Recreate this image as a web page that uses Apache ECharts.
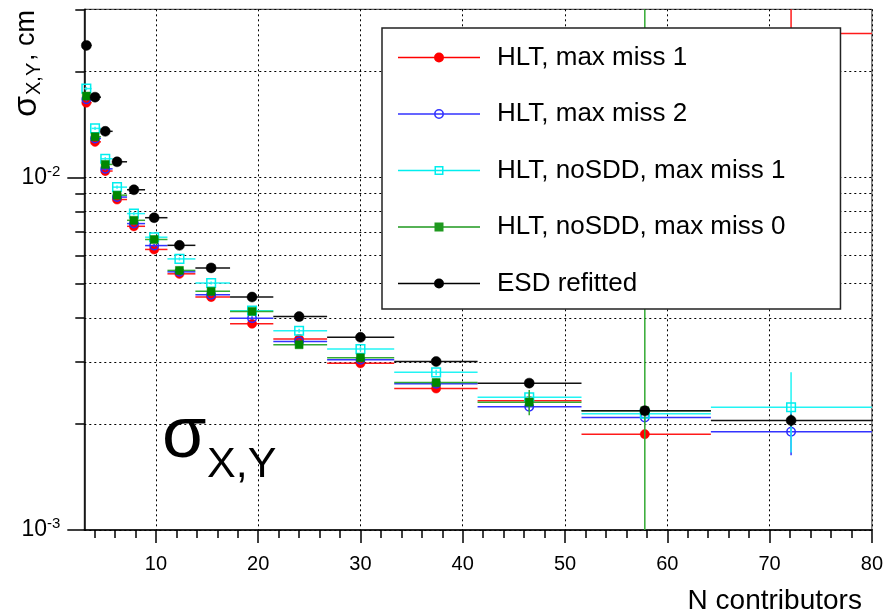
<!DOCTYPE html>
<html><head><meta charset="utf-8">
<script src="https://cdn.jsdelivr.net/npm/echarts@6/dist/echarts.min.js"></script>
<style>html,body{margin:0;padding:0;background:#fff}#c{width:886px;height:616px}</style>
</head><body><div id="c"></div>
<script>
const FONT = 'Liberation Sans, Arial, Helvetica, sans-serif';

const seriesNames = ['HLT, max miss 1', 'HLT, max miss 2', 'HLT, noSDD, max miss 1', 'HLT, noSDD, max miss 0', 'ESD refitted'];

// bin centres and bin edges (N contributors)
const binCenters = [3.2, 4.05, 5.05, 6.2, 7.85, 9.83, 12.3, 15.4, 19.4, 24.0, 30.0, 37.4, 46.5, 57.8, 72.1];
const binEdges = [3.0, 3.72, 4.63, 5.77, 7.18, 8.94, 11.13, 13.86, 17.25, 21.48, 26.74, 33.3, 41.45, 51.61, 64.26, 80.0];

// sigma_XY values (cm) and errors
const redVals   = [0.0163, 0.01262, 0.01043, 0.00866, 0.00727, 0.00625, 0.00533, 0.00458, 0.003847, 0.00348, 0.00297, 0.00252, 0.002325, 0.00187, 0.0256];
const redErrs   = [0.0002, 0.00015, 0.00012, 0.0001, 0.00008, 0.00007, 0.00006, 0.00005, 0.00005, 0.00005, 0.00005, 0.00005, 0.00006, 0.00005, 0.0207];
const blueVals  = [0.01666, 0.0129, 0.01058, 0.0088, 0.0074, 0.00641, 0.0054, 0.004651, 0.00399, 0.003427, 0.00304, 0.0026, 0.002236, 0.002084, 0.0019];
const blueErrs  = [0.0002, 0.00015, 0.00012, 0.0001, 0.00008, 0.00007, 0.00006, 0.00005, 0.00005, 0.00005, 0.00005, 0.00005, 0.00006, 0.00006, 0.00027];
const cyanVals  = [0.01787, 0.01378, 0.0113, 0.00939, 0.0079, 0.00677, 0.005875, 0.00502, 0.00419, 0.003676, 0.00326, 0.0028, 0.00238, 0.002136, 0.00223];
const cyanErrs  = [0.0002, 0.00015, 0.00012, 0.0001, 0.00008, 0.00007, 0.00006, 0.00005, 0.00005, 0.00005, 0.00005, 0.00005, 0.00006, 0.00006, 0.00057];
const greenVals = [0.01702, 0.01305, 0.01089, 0.00891, 0.00756, 0.00667, 0.00545, 0.004753, 0.00417, 0.003354, 0.00308, 0.00262, 0.002305, 0.00218, null];
const greenErrs = [0.0002, 0.00015, 0.00012, 0.0001, 0.00008, 0.00007, 0.00006, 0.00005, 0.00005, 0.00005, 0.00005, 0.00005, 0.00019, 0.05, null];
const blackVals = [0.0237, 0.0169, 0.01352, 0.01108, 0.00923, 0.00769, 0.00642, 0.00554, 0.00458, 0.00403, 0.00352, 0.003005, 0.00261, 0.00218, 0.002045];
const blackErrs = [0.0002, 0.00015, 0.00012, 0.0001, 0.00008, 0.00007, 0.00006, 0.00005, 0.00005, 0.00005, 0.00005, 0.00005, 0.00006, 0.00006, 0.00008];

// axis ticks
const xTickValues = [10, 20, 30, 40, 50, 60, 70, 80];
const xMinorTickValues = [4, 6, 8, 12, 14, 16, 18, 22, 24, 26, 28, 32, 34, 36, 38, 42, 44, 46, 48, 52, 54, 56, 58, 62, 64, 66, 68, 72, 74, 76, 78];
const yTickValues = [0.001, 0.01];
const yMinorTickValues = [0.002, 0.003, 0.004, 0.005, 0.006, 0.007, 0.008, 0.009, 0.02, 0.03];

const styles = [
  { line: '#ff1a1a', marker: 'circle', fill: '#ff0000', stroke: '#ff0000', size: 4.6, legend: '#ff0000' },
  { line: '#3333ff', marker: 'circle', fill: 'none', stroke: '#2a2aff', size: 4.2, legend: '#3333ff' },
  { line: '#22f4f4', marker: 'rect', fill: 'none', stroke: '#00eeee', size: 4.3, legend: '#00eeee' },
  { line: '#33aa33', marker: 'rect', fill: '#008800', stroke: '#008800', size: 4.0, legend: '#1f991f' },
  { line: '#111111', marker: 'circle', fill: '#000000', stroke: '#000000', size: 5.0, legend: '#000000' }
];
const valsList = [redVals, blueVals, cyanVals, greenVals, blackVals];
const errsList = [redErrs, blueErrs, cyanErrs, greenErrs, blackErrs];

const LINE = 'M0,4.3H82V5.7H0Z';
const icons = [
  'path://' + LINE + 'M36,5A5,5,0,1,1,46,5A5,5,0,1,1,36,5Z',
  'path://' + LINE + 'M36,5A5,5,0,1,1,46,5A5,5,0,1,1,36,5ZM37.6,5A3.4,3.4,0,1,0,44.4,5A3.4,3.4,0,1,0,37.6,5Z',
  'path://' + LINE + 'M36.5,0.5H45.5V9.5H36.5ZM38,2V8H44V2Z',
  'path://' + LINE + 'M36.5,0.5H45.5V9.5H36.5Z',
  'path://' + LINE + 'M36,5A5,5,0,1,1,46,5A5,5,0,1,1,36,5Z'
];

function clamp(v, a, b) { return Math.max(a, Math.min(b, v)); }

function makeRender(st) {
  return function (params, api) {
    const cs = params.coordSys;
    const x = api.value(0), y = api.value(1), xl = api.value(2), xh = api.value(3), e = api.value(4);
    const c = api.coord([x, y]);
    const pl = api.coord([xl, y]), ph = api.coord([xh, y]);
    const lo = (y - e) > 0 ? (y - e) : 1e-7;
    const pt = api.coord([x, y + e]), pb = api.coord([x, lo]);
    const top = cs.y, bot = cs.y + cs.height;
    const children = [];
    if (c[1] >= top && c[1] <= bot) {
      children.push({ type: 'line', shape: { x1: pl[0], y1: c[1], x2: ph[0], y2: c[1] }, style: { stroke: st.line, lineWidth: 1.5 } });
    }
    children.push({ type: 'line', shape: { x1: c[0], y1: clamp(pt[1], top, bot), x2: c[0], y2: clamp(pb[1], top, bot) }, style: { stroke: st.line, lineWidth: 1.5 } });
    if (c[1] >= top && c[1] <= bot) {
      const s = st.size;
      const mstyle = { fill: st.fill, stroke: st.stroke, lineWidth: st.fill === 'none' ? 1.5 : 0.5 };
      if (st.marker === 'circle') children.push({ type: 'circle', shape: { cx: c[0], cy: c[1], r: s }, style: mstyle });
      else children.push({ type: 'rect', shape: { x: c[0] - s, y: c[1] - s, width: 2 * s, height: 2 * s }, style: mstyle });
    }
    return { type: 'group', children: children };
  };
}

const series = seriesNames.map(function (name, k) {
  const data = [];
  for (let i = 0; i < binCenters.length; i++) {
    if (valsList[k][i] == null) continue;
    data.push([binCenters[i], valsList[k][i], binEdges[i], binEdges[i + 1], errsList[k][i]]);
  }
  return {
    type: 'custom', name: name, coordinateSystem: 'cartesian2d', xAxisIndex: 0, yAxisIndex: 0,
    clip: false, itemStyle: { color: styles[k].legend }, encode: { x: 0, y: 1 },
    renderItem: makeRender(styles[k]), data: data, silent: true
  };
});

const chart = echarts.init(document.getElementById('c'), null, { renderer: 'canvas' });
chart.setOption({
  backgroundColor: '#fff',
  animation: false,
  grid: { left: 84.3, right: 11.7, top: 9.3, bottom: 86, show: true, borderColor: '#333', borderWidth: 1, backgroundColor: 'transparent' },
  xAxis: [{
    type: 'value', min: 3, max: 80, splitNumber: 8, position: 'bottom',
    axisLine: { show: true, onZero: false, lineStyle: { color: '#000', width: 1.5 } },
    axisTick: { show: true, customValues: xTickValues, length: 13, lineStyle: { color: '#000', width: 1.5 } },
    axisLabel: { customValues: xTickValues, fontSize: 20, color: '#000', margin: 24, fontFamily: FONT },
    splitLine: { show: true, lineStyle: { color: '#000', type: [2, 3], width: 1 } },
    name: 'N contributors', nameLocation: 'end', nameGap: -10,
    nameTextStyle: { fontSize: 28, color: '#000', fontFamily: FONT, align: 'right', verticalAlign: 'top', padding: [57, 0, 0, 0] }
  }, {
    type: 'value', min: 3, max: 80, position: 'bottom', offset: 0,
    axisLine: { show: false, onZero: false },
    axisTick: { show: true, customValues: xMinorTickValues, length: 8, lineStyle: { color: '#000', width: 1.5 } },
    axisLabel: { show: false },
    splitLine: { show: false }
  }],
  yAxis: [{
    type: 'log', logBase: 10, min: 0.001, max: 0.03, position: 'left',
    axisLine: { show: true, onZero: false, lineStyle: { color: '#000', width: 1.5 } },
    axisTick: { show: true, customValues: yTickValues, length: 17, lineStyle: { color: '#000', width: 1.5 } },
    axisLabel: {
      customValues: yTickValues, margin: 24, color: '#000',
      formatter: function (v) { return '{b|10}{s|' + Math.round(Math.log10(v)) + '}'; },
      rich: { b: { fontSize: 23, color: '#000', fontFamily: FONT }, s: { fontSize: 15, color: '#000', fontFamily: FONT, padding: [0, 0, 12, 0] } }
    },
    splitLine: { show: true, lineStyle: { color: '#000', type: [2, 3], width: 1 } }
  }, {
    type: 'log', logBase: 10, min: 0.001, max: 0.03, position: 'left', offset: 0,
    axisLine: { show: false },
    axisTick: { show: true, customValues: yMinorTickValues, length: 9, lineStyle: { color: '#000', width: 1.5 } },
    axisLabel: { show: false },
    splitLine: { show: true, lineStyle: { color: '#000', type: [2, 3], width: 1 } }
  }],
  legend: {
    left: 382, top: 28, orient: 'vertical', selectedMode: false,
    backgroundColor: '#fff', borderColor: '#222', borderWidth: 1.5,
    padding: [16.5, 55, 12.5, 16], itemGap: 30.5, itemWidth: 82, itemHeight: 10,
    itemStyle: { borderWidth: 0 },
    textStyle: { fontSize: 26, lineHeight: 26, color: '#000', fontFamily: FONT, padding: [0, 0, 0, 12] },
    data: seriesNames.map(function (n, i) { return { name: n, icon: icons[i], itemStyle: { color: styles[i].legend, borderWidth: 0 } }; })
  },
  graphic: [
    {
      type: 'group', x: 27, y: 117, rotation: Math.PI / 2, silent: true,
      children: [
        { type: 'text', x: 0, y: 0, style: { text: 'σ', fontSize: 34, fontFamily: FONT, fill: '#000', align: 'left', verticalAlign: 'middle' } },
        { type: 'text', x: 22, y: 7, style: { text: 'X,Y', fontSize: 20, fontFamily: FONT, fill: '#000', align: 'left', verticalAlign: 'middle' } },
        { type: 'text', x: 56, y: 0, style: { text: ', cm', fontSize: 27, fontFamily: FONT, fill: '#000', align: 'left', verticalAlign: 'middle' } }
      ]
    },
    { type: 'text', x: 162, y: 437, silent: true, style: { text: 'σ', fontSize: 72, fontFamily: FONT, fill: '#000', align: 'left', verticalAlign: 'middle' } },
    { type: 'text', x: 207, y: 465, silent: true, style: { text: 'X,Y', fontSize: 43, fontFamily: FONT, fill: '#000', align: 'left', verticalAlign: 'middle' } }
  ],
  series: series
});
</script>
</body></html>
